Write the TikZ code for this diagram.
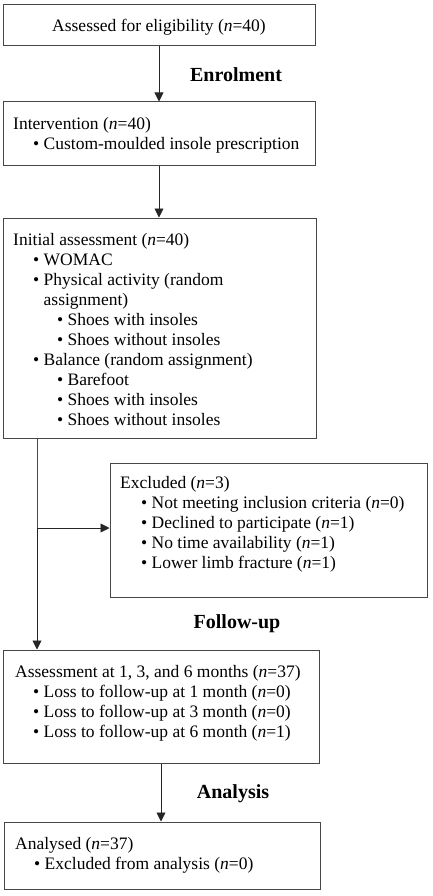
\documentclass[tikz,border=0pt]{standalone}
\usepackage{fontspec}
\setmainfont{Liberation Serif}
\usetikzlibrary{arrows.meta,calc}
\newcommand\bul{\makebox[10.5pt][l]{•}}
\newcommand\nn{\textit{n}}
\begin{document}
\begin{tikzpicture}[x=1pt,y=-1pt,
  box/.style={draw=black!72,line width=1pt,rectangle,inner sep=0pt,fill=white},
  txt/.style={anchor=base west,inner sep=0pt,font=\fontsize{17.5}{20}\selectfont},
  lbl/.style={anchor=base,inner sep=0pt,font=\fontsize{20}{24}\selectfont\bfseries},
  arr/.style={draw=black!85,line width=0.9pt,-{Triangle[width=9pt,length=9pt]}},
  ln/.style={draw=black!72,line width=1pt}]
\useasboundingbox (0,0) rectangle (432,896);
% boxes
\node[box,minimum width=312pt,minimum height=41pt] (b1) at (159,25.5) {};
\node[box,minimum width=312pt,minimum height=64pt] (b2) at (159,134) {};
\node[box,minimum width=313pt,minimum height=220pt] (b3) at (159.5,328) {};
\node[box,minimum width=317pt,minimum height=134pt] (ex) at (268.5,530) {};
\node[box,minimum width=316pt,minimum height=113pt] (b4) at (161,706.5) {};
\node[box,minimum width=316pt,minimum height=67pt] (b5) at (162,855.5) {};
% box 1
\node[anchor=base,inner sep=0pt,font=\fontsize{17.5}{20}\selectfont] (t1) at (159,32) {Assessed for eligibility (\nn=40)};
% box 2
\node[txt] (t2a) at (13,130) {Intervention (\nn=40)};
\node[txt] (t2b) at (33,150) {\bul Custom-moulded insole prescription};
% box 3
\node[txt] (t3a) at (13,245) {Initial assessment (\nn=40)};
\node[txt] (t3b) at (33,265) {\bul WOMAC};
\node[txt] (t3c) at (33,285) {\bul Physical activity (random};
\node[txt] (t3d) at (43.5,305) {assignment)};
\node[txt] (t3e) at (57,325) {\bul Shoes with insoles};
\node[txt] (t3f) at (57,345) {\bul Shoes without insoles};
\node[txt] (t3g) at (33,365) {\bul Balance (random assignment)};
\node[txt] (t3h) at (57,385) {\bul Barefoot};
\node[txt] (t3i) at (57,405) {\bul Shoes with insoles};
\node[txt] (t3j) at (57,425) {\bul Shoes without insoles};
% excluded
\node[txt] (tea) at (120,488) {Excluded (\nn=3)};
\node[txt] (teb) at (141,508) {\bul Not meeting inclusion criteria (\nn=0)};
\node[txt] (tec) at (141,528) {\bul Declined to participate (\nn=1)};
\node[txt] (ted) at (141,548) {\bul No time availability (\nn=1)};
\node[txt] (tee) at (141,568) {\bul Lower limb fracture (\nn=1)};
% box 4
\node[txt] (t4a) at (15,677) {Assessment at 1, 3, and 6 months (\nn=37)};
\node[txt] (t4b) at (33,697) {\bul Loss to follow-up at 1 month (\nn=0)};
\node[txt] (t4c) at (33,717) {\bul Loss to follow-up at 3 month (\nn=0)};
\node[txt] (t4d) at (33,737) {\bul Loss to follow-up at 6 month (\nn=1)};
% box 5
\node[txt] (t5a) at (15,849) {Analysed (\nn=37)};
\node[txt] (t5b) at (34,869) {\bul Excluded from analysis (\nn=0)};
% labels
\node[lbl] (l1) at (236,82) {Enrolment};
\node[lbl] (l2) at (237,628) {Follow-up};
\node[lbl] (l3) at (233,798) {Analysis};
% connectors
\draw[arr] (b1.south) -- (b1.south |- b2.north);
\draw[arr] (b2.south) -- (b2.south |- b3.north);
\coordinate (split) at (37,528);
\draw[ln] (b3.south -| split) -- (split);
\draw[arr] (split) -- (b4.north -| split);
\draw[arr] (split) -- (ex.west |- split);
\draw[arr] (b4.south) -- (b4.south |- b5.north);
\end{tikzpicture}
\end{document}
